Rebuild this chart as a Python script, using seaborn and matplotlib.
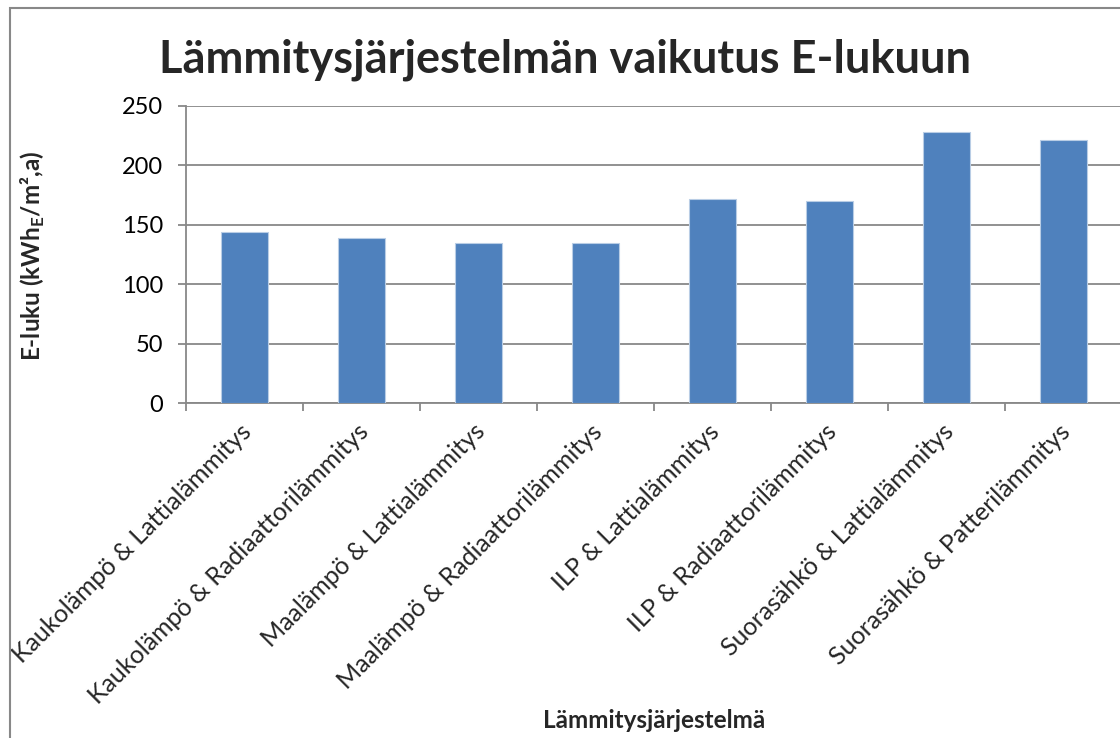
import numpy as np
import pandas as pd
import seaborn as sns
import matplotlib.pyplot as plt
import matplotlib.transforms as mtransforms
from matplotlib.patches import Rectangle

categories = [
    "Kaukolämpö & Lattialämmitys",
    "Kaukolämpö & Radiaattorilämmitys",
    "Maalämpö & Lattialämmitys",
    "Maalämpö & Radiaattorilämmitys",
    "ILP & Lattialämmitys",
    "ILP & Radiaattorilämmitys",
    "Suorasähkö & Lattialämmitys",
    "Suorasähkö & Patterilämmitys",
]
values = [144, 139, 135, 135, 172, 170, 228, 221]
yticks = [0, 50, 100, 150, 200, 250]

title = "Lämmitysjärjestelmän vaikutus E-lukuun"
xlabel = "Lämmitysjärjestelmä"
ylabel = "E-luku (kWh$_{\\mathbf{E}}$/m²,a)"

sns.set_theme(style="white")
plt.rcParams['font.family'] = ['Lato', 'DejaVu Sans']
plt.rcParams['mathtext.fontset'] = 'custom'
plt.rcParams['mathtext.bf'] = 'Lato:bold'
plt.rcParams['mathtext.rm'] = 'Lato'

grey = '#888888'
df = pd.DataFrame({'cat': categories, 'val': values})

fig = plt.figure(figsize=(11.2, 7.38), dpi=100)
ax = fig.add_axes([186 / 1120, 335 / 738, 936 / 1120, 297 / 738])

sns.barplot(data=df, x='cat', y='val', color='#4F81BD', saturation=1,
            width=0.4, edgecolor='#b9cde5', linewidth=0.8, ax=ax, zorder=3)

ax.set_xlim(-0.5, len(categories) - 0.5)
ax.set_ylim(0, 250)
ax.set_yticks(yticks)
ax.yaxis.grid(True, color=grey, linewidth=1.3, zorder=0)
ax.set_axisbelow(True)

for s in ['top', 'right']:
    ax.spines[s].set_visible(False)
for s in ['left', 'bottom']:
    ax.spines[s].set_color(grey)
    ax.spines[s].set_linewidth(1.3)

ax.tick_params(axis='y', left=True, length=5.5, width=1.3, color=grey,
               labelsize=17, pad=11, labelcolor='black')
ax.set_xticks(np.arange(len(categories)))
ax.set_xticks(np.arange(-0.5, len(categories)), minor=True)
ax.tick_params(axis='x', which='major', length=0, pad=12, labelsize=18)
ax.tick_params(axis='x', which='minor', bottom=True, length=6, width=1.3, color=grey)
ax.set_xticklabels(categories, rotation=45, ha='right', rotation_mode='anchor')
shift = mtransforms.ScaledTranslation(-5 / 100, 0, fig.dpi_scale_trans)
for lbl in ax.get_xticklabels():
    lbl.set_transform(lbl.get_transform() + shift)
ax.set_xlabel('')
ax.set_ylabel('')

fig.text(565 / 1120, 1 - 60 / 738, title, ha='center', va='center',
         fontsize=32.5, fontweight='bold')
fig.text(33 / 1120, 1 - 256 / 738, ylabel, rotation=90, ha='center', va='center',
         fontsize=17.5, fontweight='bold')
fig.text(654 / 1120, 1 - 720 / 738, xlabel, ha='center', va='center',
         fontsize=17.5, fontweight='bold')

fig.patches.append(Rectangle((10 / 1120, -0.1), 1.2, 1.1 - 8.5 / 738,
                             transform=fig.transFigure, fill=False,
                             edgecolor=grey, linewidth=1.5, zorder=0))

fig.savefig('out.png', dpi=100)
